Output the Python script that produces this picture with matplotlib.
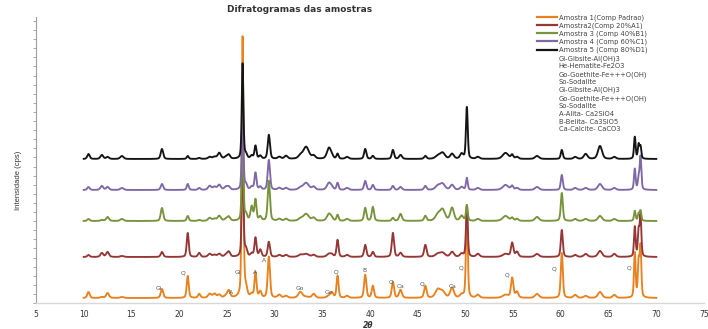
import numpy as np
import matplotlib
matplotlib.use("Agg")
import matplotlib.pyplot as plt
from matplotlib.lines import Line2D

# ---------------- data ----------------
series_names = ["Amostra 1(Comp Padrao)", "Amostra2(Comp 20%A1)", "Amostra 3 (Comp 40%B1)",
                "Amostra 4 (Comp 60%C1)", "Amostra 5 (Comp 80%D1)"]
series_colors = ["#E8821E", "#953735", "#77933C", "#7F68A6", "#141414"]
baselines = [5, 46, 82, 113, 144]          # vertical offsets of each pattern (cps, stacked)

peak_pos = [10.5, 11.9, 12.5, 14.0, 18.2, 20.9, 22.1, 23.2, 23.7, 24.2, 24.9, 25.2,
            26.65, 27.0, 27.6, 28.0, 28.5, 29.4, 30.5, 31.2, 32.7, 33.3, 34.1, 35.7,
            36.0, 36.6, 37.6, 39.5, 40.3, 42.4, 43.2, 45.8, 47.1, 47.6, 48.6, 49.6,
            50.15, 51.3, 54.2, 54.9, 55.4, 57.5, 60.1, 61.5, 62.6, 64.1, 65.6,
            67.75, 68.15, 68.35]
peak_fwhm = [0.3, 0.35, 0.35, 0.4, 0.3, 0.25, 0.3, 0.4, 0.4, 0.4, 0.4, 0.35,
             0.2, 0.3, 0.3, 0.25, 0.3, 0.28, 0.4, 0.4, 0.5, 0.7, 0.4, 0.5,
             0.35, 0.25, 0.4, 0.28, 0.28, 0.28, 0.35, 0.3, 0.6, 0.6, 0.45, 0.4,
             0.22, 0.4, 0.7, 0.3, 0.35, 0.5, 0.25, 0.4, 0.45, 0.5, 0.4,
             0.2, 0.2, 0.2]
h_am1 = [6, 1, 5, 1, 9, 22, 4, 4, 4, 3, 2, 7, 263, 8, 3, 25, 6, 41, 3, 2, 6, 1, 4, 2,
         5, 22, 2, 23, 12, 16, 8, 12, 8, 6, 10, 3, 92, 3, 3, 20, 6, 4, 45, 3, 2, 6, 3,
         45, 35, 50]
h_am2 = [2, 4, 5, 1, 5, 24, 4, 3, 2, 3, 2, 5, 110, 7, 3, 19, 7, 15, 2, 2, 2, 3, 2, 3,
         2, 17, 2, 12, 5, 24, 4, 12, 3, 4, 5, 3, 52, 3, 3, 14, 5, 3, 27, 2, 3, 6, 3,
         30, 25, 40]
h_am3 = [2, 1, 4, 2, 13, 5, 1, 3, 2, 5, 2, 4, 90, 6, 14, 21, 4, 40, 2, 2, 2, 7, 3, 7,
         2, 6, 2, 13, 14, 3, 7, 5, 6, 11, 13, 5, 15, 2, 5, 3, 2, 4, 28, 2, 2, 5, 2,
         10, 7, 10]
h_am4 = [3, 4, 3, 2, 6, 6, 2, 4, 3, 5, 3, 3, 80, 5, 3, 17, 3, 30, 2, 2, 2, 7, 3, 7,
         2, 7, 2, 9, 5, 4, 3, 4, 4, 6, 5, 3, 12, 2, 5, 4, 2, 3, 15, 2, 2, 6, 2,
         21, 12, 33]
h_am5 = [5, 4, 2, 3, 10, 3, 1, 2, 2, 6, 2, 4, 96, 4, 3, 13, 3, 24, 2, 3, 3, 12, 3, 11,
         2, 5, 2, 10, 3, 9, 4, 3, 3, 6, 5, 5, 52, 2, 6, 4, 2, 3, 9, 2, 5, 13, 2,
         22, 14, 12]
heights = [h_am1, h_am2, h_am3, h_am4, h_am5]

phase_texts = ["Gi-Gibsite-Al(OH)3", "He-Hematite-Fe2O3", "Go-Goethite-Fe+++O(OH)", "So-Sodalite",
               "Gi-Gibsite-Al(OH)3", "Go-Goethite-Fe+++O(OH)", "So-Sodalite",
               "A-Alita- Ca2SiO4", "B-Belita- Ca3SiO5", "Ca-Calcite- CaCO3"]

ann_labels = ["Gi", "Q", "A", "Gi", "A", "A", "Go", "Go", "Q", "B", "Q", "Ca", "Q", "Ca",
              "Q", "Q", "Q", "Q"]
ann_x = [17.9, 20.4, 25.4, 26.1, 27.9, 28.9, 32.6, 35.7, 36.4, 39.4, 42.2, 43.2, 45.5,
         48.6, 49.5, 54.4, 59.3, 67.1]
ann_y = [15, 30, 11, 31, 31, 42, 15, 11, 31, 32, 21, 16, 19, 16, 35, 28, 34, 35]

# ---------------- figure ----------------
W, H = 708, 329
fig = plt.figure(figsize=(W / 100, H / 100), dpi=100)
ax = fig.add_axes([36 / W, (H - 303) / H, (704 - 36) / W, (303 - 17) / H])

two_theta = np.arange(10.0, 70.0001, 0.02)


def pattern(hs):
    y = np.zeros_like(two_theta)
    for p, w, h in zip(peak_pos, peak_fwhm, hs):
        g = np.exp(-4 * np.log(2) * ((two_theta - p) / w) ** 2)
        l = 1 / (1 + 4 * ((two_theta - p) / w) ** 2)
        y += h * (0.6 * g + 0.4 * l)
    return y


handles = []
for name, col, base, hs in zip(series_names, series_colors, baselines, heights):
    ax.plot(two_theta, base + pattern(hs), color=col, lw=1.35, solid_joinstyle="round")
    handles.append(Line2D([], [], color=col, lw=1.6))
for t in phase_texts:
    handles.append(Line2D([], [], color="none", lw=0))

labels = series_names + phase_texts
leg = ax.legend(handles, labels, loc="upper left", bbox_to_anchor=((537 - 36) / (704 - 36), 1.01),
                frameon=False, fontsize=4.9, handlelength=2.9, handletextpad=0.3,
                labelspacing=0.25, borderaxespad=0, borderpad=0)
for txt in leg.get_texts():
    txt.set_color("#444444")

for lab, xx, yy in zip(ann_labels, ann_x, ann_y):
    ax.text(xx, yy, lab, fontsize=4.3, color="#555555", ha="center", va="center")

ax.set_xlim(5, 75)
ax.set_ylim(0, 286)
ax.set_xticks(np.arange(5, 76, 5))
ax.tick_params(axis="x", length=0, labelsize=5.5, labelcolor="#333333", pad=5)
ax.set_yticks(np.arange(0, 287, 9.1))
ax.set_yticklabels([])
ax.tick_params(axis="y", length=2.5, width=0.6, color="#9a9a9a", direction="out")
for s in ["top", "right"]:
    ax.spines[s].set_visible(False)
ax.spines["left"].set_color("#a0a0a0")
ax.spines["left"].set_linewidth(0.8)
ax.spines["bottom"].set_color("#d8d8d8")
ax.spines["bottom"].set_linewidth(1.0)

fig.text(300 / W, 1 - 10 / H, "Difratogramas das amostras", ha="center", va="center",
         fontsize=6.5, fontweight="bold", color="#333333")
fig.text(18 / W, 1 - 180 / H, "Intensidade (cps)", ha="center", va="center", rotation=90,
         fontsize=5.5, color="#333333", family="Liberation Sans")
fig.text(368 / W, 1 - 325 / H, "2θ", ha="center", va="center", fontsize=5.5,
         fontweight="bold", fontstyle="italic", color="#333333")

fig.savefig("out.png", dpi=100)
